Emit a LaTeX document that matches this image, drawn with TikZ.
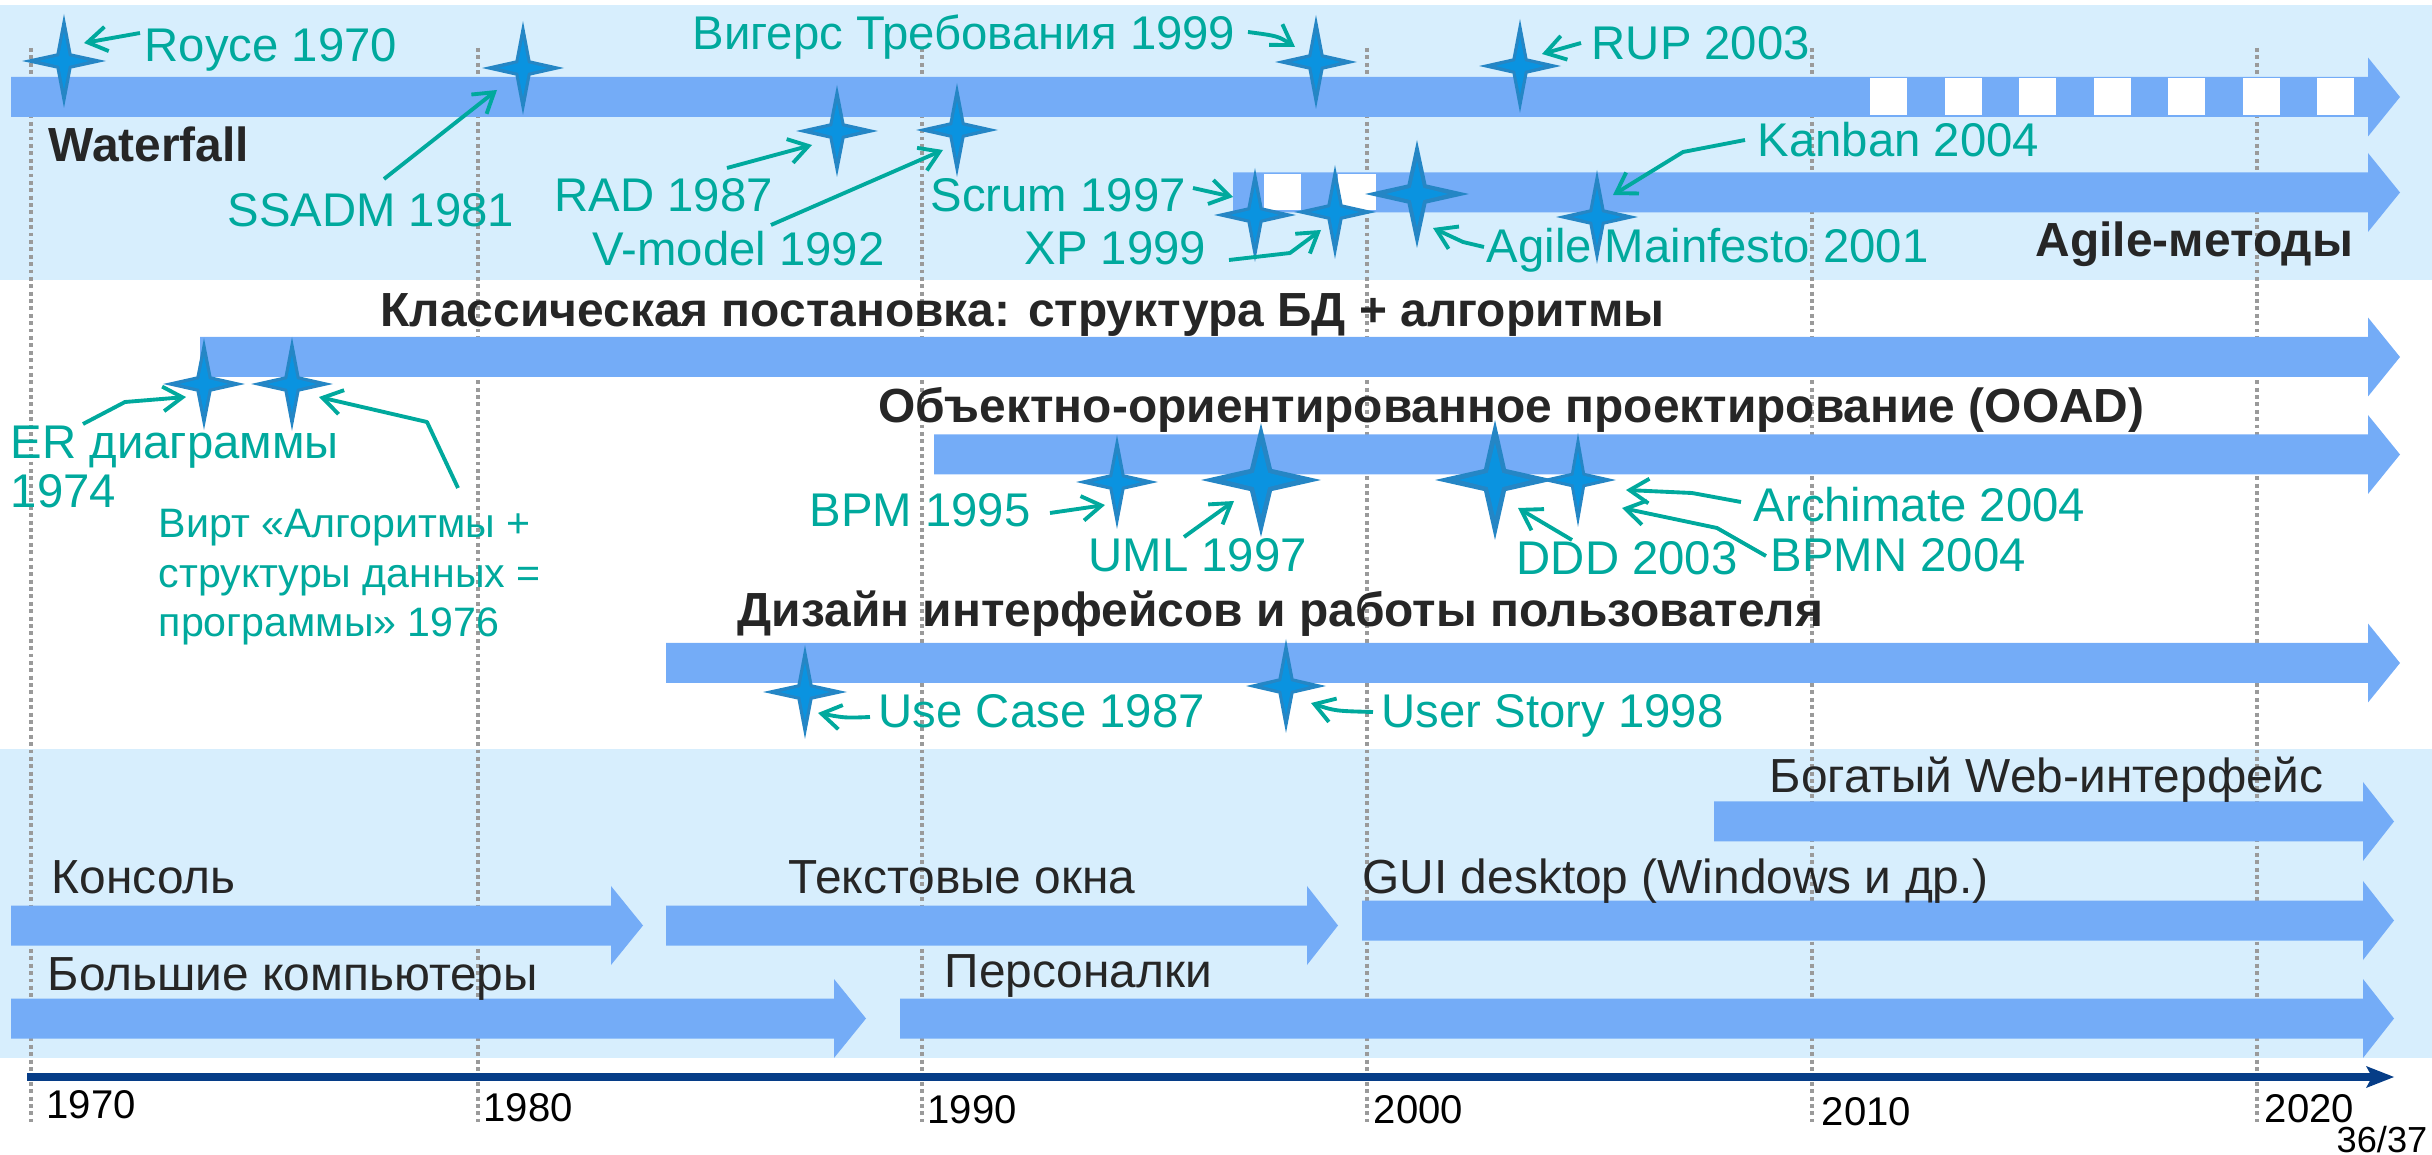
\documentclass[tikz,border=0pt]{standalone}
\usepackage{fontspec}
\setmainfont{Liberation Sans}
\usetikzlibrary{arrows.meta}

\definecolor{bandbg}{HTML}{D7EEFD}
\definecolor{arrowblue}{HTML}{74ACF7}
\definecolor{stardark}{HTML}{2586C5}
\definecolor{starlight}{HTML}{0A93E0}
\definecolor{annoteal}{HTML}{00A99D}
\definecolor{axisnavy}{HTML}{063D87}
\definecolor{gridgray}{HTML}{9A9A9A}
\definecolor{inkdark}{HTML}{262626}

% long horizontal band arrow: start x, centre y, head base x, tip x
\newcommand\bandarrow[4]{%
  \fill[arrowblue] (#1,#2-20) -- (#3,#2-20) -- (#3,#2-39.5) -- (#4,#2)
    -- (#3,#2+39.5) -- (#3,#2+20) -- (#1,#2+20) -- cycle;}

% four-pointed star: centre x, centre y, half width, half height, waist
\newcommand\sparkle[5]{%
  \fill[stardark] (#1,#2-#4) -- (#1+#5,#2-#5) -- (#1+#3,#2) -- (#1+#5,#2+#5)
    -- (#1,#2+#4) -- (#1-#5,#2+#5) -- (#1-#3,#2) -- (#1-#5,#2-#5) -- cycle;
  \fill[starlight] (#1,#2-0.62*#4) -- (#1+0.65*#5,#2-0.65*#5) -- (#1+0.6*#3,#2)
    -- (#1+0.65*#5,#2+0.65*#5) -- (#1,#2+0.62*#4) -- (#1-0.65*#5,#2+0.65*#5)
    -- (#1-0.6*#3,#2) -- (#1-0.65*#5,#2-0.65*#5) -- cycle;}

\tikzset{
  note/.style={text=annoteal, font=\fontsize{13.45}{14.2}\selectfont, inner sep=0pt, anchor=base west},
  smallnote/.style={text=annoteal, font=\fontsize{11.7}{14.2}\selectfont, inner sep=0pt, anchor=base west},
  head/.style={text=inkdark, font=\fontsize{13.62}{16}\selectfont\bfseries, inner sep=0pt, anchor=base west},
  tech/.style={text=inkdark, font=\fontsize{13.6}{16}\selectfont, inner sep=0pt, anchor=base west},
  yearlbl/.style={text=black, font=\fontsize{11.4}{13}\selectfont, inner sep=0pt, anchor=base west},
  conn/.style={draw=annoteal, line width=1.1pt, line join=round,
    -{Straight Barb[length=5.5pt,width=7pt,line width=1.1pt]}},
  gridline/.style={draw=gridgray, line width=1.1pt, dash pattern=on 1.1pt off 1pt},
}

\begin{document}
\begin{tikzpicture}[x=0.01cm,y=-0.01cm]
\useasboundingbox (0,0) rectangle (2432,1155);

% background bands
\fill[bandbg] (0,5) rectangle (2432,280);
\fill[bandbg] (0,749) rectangle (2432,1058);
\fill[white] (150,473) rectangle (560,673);

% decade grid
\foreach \gx in {31,478,922,1367,1812,2257}
  \draw[gridline] (\gx,48) -- (\gx,1122);

% process / method bands
\bandarrow{11}{97}{2368}{2400}
\foreach \i in {0,...,6}
  \fill[white] ({1870+74.5*\i},78) rectangle ++(37,37);
\bandarrow{1233}{192.5}{2368}{2400}
\fill[white] (1264,174) rectangle (1301,210);
\fill[white] (1338,174) rectangle (1376,210);
\bandarrow{200}{357}{2368}{2400}
\bandarrow{934}{454.5}{2368}{2400}
\bandarrow{666}{663}{2368}{2400}

% interface / hardware bands
\bandarrow{1714}{821.5}{2363}{2394}
\bandarrow{11}{925.5}{611}{643}
\bandarrow{666}{925.5}{1307}{1338}
\bandarrow{1362}{920.5}{2363}{2394}
\bandarrow{11}{1018.5}{834}{866}
\bandarrow{900}{1018.5}{2363}{2394}

% time axis
\fill[axisnavy] (27,1073) rectangle (2372,1081);
\fill[axisnavy] (2366,1066) -- (2394,1077) -- (2366,1088) -- (2372,1077) -- cycle;

% milestones
\sparkle{64}{61}{42}{47}{7.5}
\sparkle{523}{68}{41}{47}{7.5}
\sparkle{837}{131}{41}{46}{7.5}
\sparkle{957}{130}{41}{47}{7.5}
\sparkle{1316}{62}{41}{47}{7.5}
\sparkle{1520}{66}{41}{47}{7.5}
\sparkle{1255}{215}{41}{47}{7.5}
\sparkle{1335}{212}{41}{47}{7.5}
\sparkle{1417}{194}{52}{54}{9.5}
\sparkle{1597}{217}{41}{47}{7.5}
\sparkle{204}{384}{41}{46}{7.5}
\sparkle{292}{384}{41}{47}{7.5}
\sparkle{1117}{482}{41}{47}{7.5}
\sparkle{1261}{480}{60}{57}{11}
\sparkle{1495}{480}{60}{60}{11}
\sparkle{1578}{480}{38}{47}{7}
\sparkle{805}{692}{42}{47}{7.5}
\sparkle{1286}{686}{40}{47}{7.5}

% labels
\node[note] (royce) at (144,62) {Royce 1970};
\node[note, anchor=base east] (wiegers) at (1236,50) {Вигерс Требования 1999};
\node[note] (rup) at (1591,60) {RUP 2003};
\node[note] (ssadm) at (227,227) {SSADM 1981};
\node[note] (rad) at (554,212) {RAD 1987};
\node[note] (vmodel) at (592,266) {V-model 1992};
\node[note] (scrum) at (930,212) {Scrum 1997};
\node[note] (xp) at (1024,265) {XP 1999};
\node[note] (agile) at (1486,263) {Agile Mainfesto 2001};
\node[note] (kanban) at (1757,157) {Kanban 2004};
\node[head] (waterfall) at (48,162) {Waterfall};
\node[head] (agilem) at (2035,257) {Agile-методы};

\node[head] (classic) at (380,327) {Классическая постановка: структура БД + алгоритмы};
% multi-line labels are anchored at the baseline of their last line
\node[note, align=left] (er) at (10,508) {ER диаграммы\\1974};
\node[smallnote, align=left] (wirth) at (158,637) {Вирт «Алгоритмы +\\структуры данных =\\программы» 1976};

\node[head] (ooad) at (878,423) {Объектно-ориентированное проектирование (OOAD)};
\node[note] (bpm) at (809,527) {BPM 1995};
\node[note] (uml) at (1088,572) {UML 1997};
\node[note] (ddd) at (1516,575) {DDD 2003};
\node[note] (archimate) at (1753,522) {Archimate 2004};
\node[note] (bpmn) at (1770,572) {BPMN 2004};

\node[head] (uidesign) at (737,627) {Дизайн интерфейсов и работы пользователя};
\node[note] (usecase) at (878,728) {Use Case 1987};
\node[note] (userstory) at (1381,728) {User Story 1998};

\node[tech] (web) at (1769,793) {Богатый Web-интерфейс};
\node[tech] (console) at (51,893) {Консоль};
\node[tech] (textwin) at (788,893) {Текстовые окна};
\node[tech] (gui) at (1362,893) {GUI desktop (Windows и др.)};
\node[tech] (mainframe) at (47,991) {Большие компьютеры};
\node[tech] (pc) at (944,987) {Персоналки};

\node[yearlbl] (y1970) at (46,1118) {1970};
\node[yearlbl] (y1980) at (483,1121) {1980};
\node[yearlbl] (y1990) at (927,1123) {1990};
\node[yearlbl] (y2000) at (1373,1123) {2000};
\node[yearlbl] (y2010) at (1821,1125) {2010};
\node[yearlbl] (y2020) at (2264,1122) {2020};
\node[text=black, font=\fontsize{10.3}{12}\selectfont, inner sep=0pt, anchor=base east] (page) at (2428,1152) {36/37};

% connector end points
\coordinate (royce-a) at (140,33);   \coordinate (royce-b) at (84,43);
\coordinate (wieg-a) at (1248,32);   \coordinate (wieg-b) at (1295,47);
\coordinate (rup-a) at (1581,43);    \coordinate (rup-b) at (1542,54);
\coordinate (ssadm-a) at (384,179);  \coordinate (ssadm-b) at (497,90);
\coordinate (rad-a) at (727,168);    \coordinate (rad-b) at (812,145);
\coordinate (vm-a) at (771,225);     \coordinate (vm-b) at (943,150);
\coordinate (scrum-a) at (1193,188); \coordinate (scrum-b) at (1233,197);
\coordinate (xp-a) at (1229,260);    \coordinate (xp-k) at (1290,253);   \coordinate (xp-b) at (1321,230);
\coordinate (ag-a) at (1484,247);    \coordinate (ag-k) at (1463,242);   \coordinate (ag-b) at (1433,228);
\coordinate (kb-a) at (1745,140);    \coordinate (kb-k) at (1683,152);   \coordinate (kb-b) at (1613,195);
\coordinate (er-a) at (83,424);      \coordinate (er-k) at (125,402);    \coordinate (er-b) at (186,397);
\coordinate (wi-a) at (458,488);     \coordinate (wi-k) at (427,422);    \coordinate (wi-b) at (319,397);
\coordinate (bpm-a) at (1050,513);   \coordinate (bpm-b) at (1105,505);
\coordinate (uml-a) at (1184,537);   \coordinate (uml-b) at (1234,501);
\coordinate (ddd-a) at (1572,540);   \coordinate (ddd-b) at (1518,508);
\coordinate (am-a) at (1741,502);    \coordinate (am-k) at (1692,493);   \coordinate (am-b) at (1626,490);
\coordinate (bn-a) at (1766,556);    \coordinate (bn-k) at (1717,528);   \coordinate (bn-b) at (1622,508);
\coordinate (uc-a) at (870,717);     \coordinate (uc-b) at (818,713);
\coordinate (us-a) at (1373,712);    \coordinate (us-b) at (1311,703);

% connectors
\draw[conn] (royce-a) -- (royce-b);
\draw[conn] (wieg-a) .. controls (1278,36) .. (wieg-b);
\draw[conn] (rup-a) -- (rup-b);
\draw[conn] (ssadm-a) -- (ssadm-b);
\draw[conn] (rad-a) -- (rad-b);
\draw[conn] (vm-a) -- (vm-b);
\draw[conn] (scrum-a) -- (scrum-b);
\draw[conn] (xp-a) -- (xp-k) -- (xp-b);
\draw[conn] (ag-a) -- (ag-k) -- (ag-b);
\draw[conn] (kb-a) -- (kb-k) -- (kb-b);
\draw[conn] (er-a) -- (er-k) -- (er-b);
\draw[conn] (wi-a) -- (wi-k) -- (wi-b);
\draw[conn] (bpm-a) -- (bpm-b);
\draw[conn] (uml-a) -- (uml-b);
\draw[conn] (ddd-a) -- (ddd-b);
\draw[conn] (am-a) -- (am-k) -- (am-b);
\draw[conn] (bn-a) -- (bn-k) -- (bn-b);
\draw[conn] (uc-a) .. controls (845,718) .. (uc-b);
\draw[conn] (us-a) .. controls (1335,711) .. (us-b);
\end{tikzpicture}
\end{document}
